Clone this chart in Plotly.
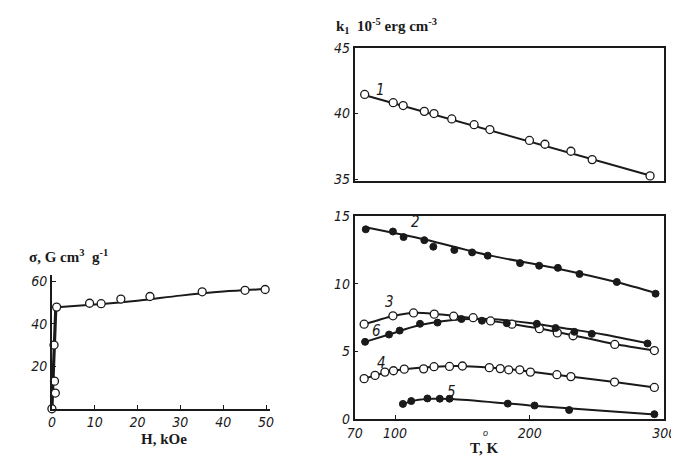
import plotly.graph_objects as go

W, H = 679, 457

# ---------------- data ----------------
# left panel: sigma vs H
H_pts = [0, 0.8, 0.6, 0.5, 1.1, 8.8, 11.5, 16.1, 22.9, 35.1, 45.1, 49.8]
sig_pts = [0, 7.4, 13.0, 30.0, 47.9, 49.7, 49.5, 51.7, 52.9, 55.1, 55.8, 56.2]
H_line = [0, 0.9, 1.2, 10, 20, 30, 40, 50]
sig_line = [0, 47.0, 47.8, 49.1, 50.9, 53.3, 55.2, 56.4]

# top right: curve 1
T1 = [77.4, 98.6, 106, 121.7, 128.9, 142.1, 158.7, 170.4, 199.8, 211.3, 230.6, 246.4, 289.4]
k1 = [41.45, 40.82, 40.6, 40.16, 39.99, 39.58, 39.14, 38.77, 37.94, 37.65, 37.12, 36.48, 35.24]
T1_line = [77, 292]
k1_line = [41.4, 35.2]

# bottom right curves
T2 = [78.2, 98.4, 106.3, 121.7, 128.4, 144, 157.2, 168.8, 192.8, 207, 220.9, 237, 264.7, 293.5]
k2 = [14.0, 13.84, 13.43, 13.2, 12.72, 12.48, 12.3, 12.06, 11.51, 11.32, 11.16, 10.71, 10.12, 9.26]
T2_line = [78, 122, 169, 221, 265, 294]
k2_line = [14.15, 13.25, 12.1, 11.1, 10.1, 9.3]

T3 = [77, 98.4, 113.7, 129.1, 143.5, 158, 170.9, 186.8, 207.2, 220.5, 232.2, 263.2, 292.6]
k3 = [7.01, 7.63, 7.84, 7.75, 7.6, 7.49, 7.25, 7.01, 6.68, 6.37, 6.16, 5.52, 5.07]
T3_line = [77, 98, 115, 150, 175, 207, 232, 263, 293]
k3_line = [7.0, 7.6, 7.85, 7.55, 7.2, 6.7, 6.2, 5.55, 5.07]

T6 = [77.7, 95.5, 103.4, 118.5, 131.5, 149.3, 164.5, 183, 205.3, 219.2, 233.2, 246.1, 287.5]
k6 = [5.71, 6.25, 6.54, 7.04, 7.13, 7.39, 7.27, 7.08, 7.04, 6.73, 6.45, 6.3, 5.59]
T6_line = [77.7, 95.5, 118.5, 150, 170, 200, 230, 255, 288]
k6_line = [5.71, 6.25, 6.95, 7.38, 7.4, 7.1, 6.65, 6.25, 5.6]

T4 = [77, 85.1, 92.4, 98.8, 106.8, 121.2, 128.9, 140.4, 150, 170, 178.1, 184.4, 192.6, 200.5, 220.2, 230.6, 263, 292.6]
k4 = [3.0, 3.24, 3.48, 3.58, 3.7, 3.72, 3.88, 3.9, 3.93, 3.81, 3.74, 3.65, 3.65, 3.48, 3.29, 3.15, 2.75, 2.35]
T4_line = [77, 100, 130, 150, 180, 200, 230, 263, 293]
k4_line = [3.0, 3.6, 3.88, 3.92, 3.75, 3.52, 3.15, 2.75, 2.35]

T5 = [105.8, 112, 124, 133.2, 140.4, 183.7, 203.6, 229.3, 292.6]
k5 = [1.14, 1.35, 1.54, 1.52, 1.52, 1.16, 1.02, 0.69, 0.38]
T5_line = [106, 115, 128, 142, 200, 293]
k5_line = [1.15, 1.4, 1.52, 1.5, 1.03, 0.35]

curve_labels = ["1", "2", "3", "4", "5", "6"]
label_T = [89, 115, 96, 90, 141.6, 86]
label_k = [41.8, 14.55, 8.67, 4.12, 2.04, 6.54]
label_axis = ["2", "3", "3", "3", "3", "3"]

x_ticks_left = [0, 10, 20, 30, 40, 50]
y_ticks_left = [20, 40, 60]
x_ticks_T = [70, 100, 200, 300]
y_ticks_top = [35, 40, 45]
y_ticks_bot = [0, 5, 10, 15]

# ---------------- styling helpers ----------------
INK = "#1a1a1a"
tick_font = dict(family="Liberation Sans Narrow, DejaVu Sans Condensed, Liberation Sans", size=14,
                 color=INK, style="italic")
title_font = dict(family="Liberation Serif, Times New Roman, serif", size=15, color=INK, weight="bold")


def fx(px):
    return px / W


def fy(py):
    return (H - py) / H


open_marker = dict(symbol="circle", size=8, color="white", line=dict(color=INK, width=1.3))
fill_marker = dict(symbol="circle", size=7, color=INK, line=dict(color=INK, width=1))

fig = go.Figure()


def add_line(x, y, xa, ya, width=2.0, shape="spline"):
    fig.add_trace(go.Scatter(x=x, y=y, mode="lines", xaxis=xa, yaxis=ya,
                             line=dict(color=INK, width=width, shape=shape, smoothing=0.8),
                             hoverinfo="skip", showlegend=False, cliponaxis=False))


def add_pts(x, y, xa, ya, marker):
    fig.add_trace(go.Scatter(x=x, y=y, mode="markers", xaxis=xa, yaxis=ya, marker=marker,
                             showlegend=False, cliponaxis=False))


# left panel
add_line(H_line[:3], sig_line[:3], "x", "y", width=3.2, shape="linear")
add_line(H_line[2:], sig_line[2:], "x", "y", width=2.0)
add_pts(H_pts, sig_pts, "x", "y", open_marker)

# top right
add_line(T1_line, k1_line, "x2", "y2", shape="linear")
add_pts(T1, k1, "x2", "y2", open_marker)

# bottom right
add_line(T2_line, k2_line, "x3", "y3")
add_line(T3_line, k3_line, "x3", "y3")
add_line(T6_line, k6_line, "x3", "y3")
add_line(T4_line, k4_line, "x3", "y3")
add_line(T5_line, k5_line, "x3", "y3")
add_pts(T2, k2, "x3", "y3", fill_marker)
add_pts(T3, k3, "x3", "y3", open_marker)
add_pts(T6, k6, "x3", "y3", fill_marker)
add_pts(T4, k4, "x3", "y3", open_marker)
add_pts(T5, k5, "x3", "y3", fill_marker)

axis_common = dict(showgrid=False, zeroline=False, showline=True, linecolor=INK, linewidth=1.6,
                   ticks="inside", ticklen=5, tickcolor=INK, tickwidth=1.3, tickfont=tick_font,
                   fixedrange=True)

fig.update_layout(
    width=W, height=H, margin=dict(l=0, r=0, t=0, b=0),
    paper_bgcolor="white", plot_bgcolor="white", showlegend=False,
    xaxis=dict(axis_common, domain=[fx(37), fx(262)], range=[0, 51], anchor="y",
               tickvals=x_ticks_left, ticklen=4),
    yaxis=dict(axis_common, domain=[fy(407), fy(268)], range=[0, 63.2], anchor="x",
               tickvals=y_ticks_left, ticklen=4),
    xaxis2=dict(axis_common, domain=[fx(349), fx(668)], range=[70, 300], anchor="y2",
                tickvals=x_ticks_T, showticklabels=False, mirror=True, ticklen=0),
    yaxis2=dict(axis_common, domain=[fy(171), fy(33)], range=[34.85, 45], anchor="x2",
                tickvals=y_ticks_top, mirror=True, ticklen=3),
    xaxis3=dict(axis_common, domain=[fx(349), fx(668)], range=[70, 300], anchor="y3",
                tickvals=x_ticks_T, mirror=True, ticklen=5),
    yaxis3=dict(axis_common, domain=[fy(418), fy(207)], range=[0, 15], anchor="x3",
                tickvals=y_ticks_bot, mirror=True, ticklen=3),
)

# curve number labels
for lab, t, k, ax in zip(curve_labels, label_T, label_k, label_axis):
    fig.add_annotation(x=t, y=k, xref="x" + ax, yref="y" + ax, text=lab, showarrow=False,
                       font=dict(family="Liberation Sans Narrow, DejaVu Sans Condensed, Liberation Sans",
                                 size=15, color=INK, style="italic"))

# axis titles
fig.add_annotation(x=fx(328), y=fy(10), xref="paper", yref="paper", xanchor="left", yanchor="middle",
                   text="k<sub>1</sub>  10<sup>-5</sup> erg cm<sup>-3</sup>", showarrow=False, font=title_font)
fig.add_annotation(x=fx(11), y=fy(249), xref="paper", yref="paper", xanchor="left", yanchor="middle",
                   text="σ, G cm<sup>3</sup>  g<sup>-1</sup>", showarrow=False, font=title_font)
fig.add_annotation(x=fx(152), y=fy(438), xref="paper", yref="paper", xanchor="center", yanchor="middle",
                   text="H, kOe", showarrow=False, font=title_font)
fig.add_annotation(x=fx(482), y=fy(448), xref="paper", yref="paper", xanchor="center", yanchor="middle",
                   text="T, K", showarrow=False, font=title_font)
fig.add_annotation(x=fx(484), y=fy(432), xref="paper", yref="paper", xanchor="center", yanchor="middle",
                   text="o", showarrow=False, borderpad=0,
                   font=dict(family="Liberation Sans", size=9, color=INK, style="italic"))

fig.write_html("out.html")
